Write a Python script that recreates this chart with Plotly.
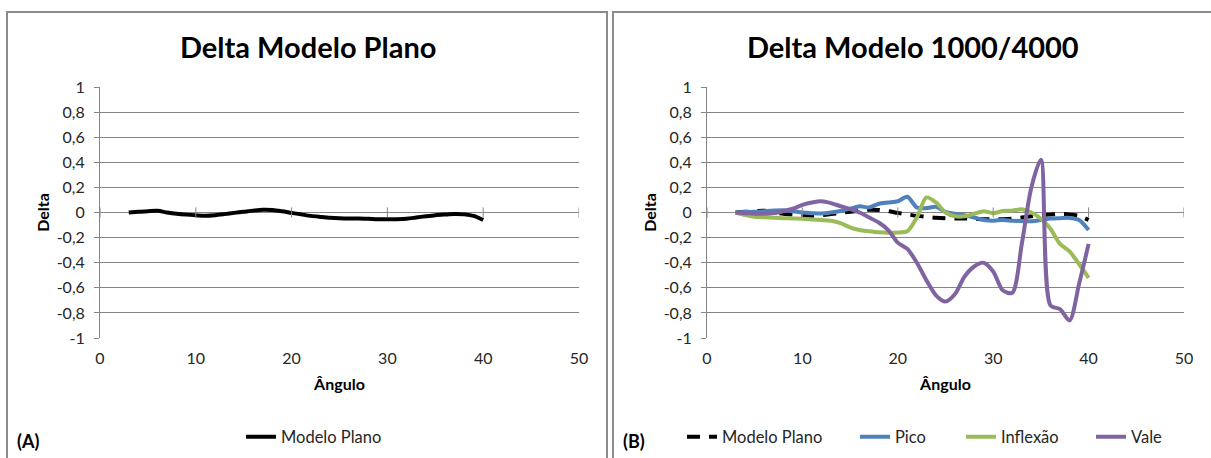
import plotly.graph_objects as go

# ---------------- data ----------------
ANGLES = list(range(3, 41))

PLANO = [0.0, 0.005, 0.01, 0.013, 0.0, -0.01, -0.017, -0.022, -0.026, -0.022,
         -0.013, -0.003, 0.006, 0.015, 0.022, 0.02, 0.01, -0.003, -0.015, -0.027,
         -0.035, -0.042, -0.046, -0.048, -0.048, -0.05, -0.053, -0.053, -0.053, -0.05,
         -0.04, -0.03, -0.021, -0.016, -0.012, -0.015, -0.027, -0.06]

PICO = [0.0, 0.003, 0.005, 0.01, 0.015, 0.018, 0.01, 0.0, -0.005, -0.008,
        0.0, 0.012, 0.03, 0.05, 0.04, 0.07, 0.08, 0.09, 0.125, 0.04,
        0.035, 0.045, 0.005, -0.01, -0.022, -0.04, -0.06, -0.065, -0.06, -0.065,
        -0.068, -0.07, -0.06, -0.048, -0.045, -0.043, -0.06, -0.14]

INFLEXAO = [0.0, -0.02, -0.033, -0.038, -0.042, -0.045, -0.048, -0.05, -0.055, -0.06,
            -0.066, -0.085, -0.118, -0.14, -0.15, -0.158, -0.162, -0.16, -0.15, -0.04,
            0.12, 0.08, 0.0, -0.03, -0.03, -0.01, 0.01, -0.005, 0.012, 0.015,
            0.025, 0.0, -0.05, -0.13, -0.25, -0.31, -0.41, -0.52]

VALE = [0.0, -0.005, -0.01, -0.01, -0.005, 0.01, 0.03, 0.06, 0.08, 0.09,
        0.075, 0.05, 0.028, 0.0, -0.04, -0.08, -0.14, -0.24, -0.29, -0.4,
        -0.54, -0.66, -0.71, -0.65, -0.51, -0.43, -0.40, -0.47, -0.62, -0.64,
        -0.25, 0.2, 0.42, -0.74, -0.77, -0.86, -0.57, -0.25]

Y_TICKS = [1, 0.8, 0.6, 0.4, 0.2, 0, -0.2, -0.4, -0.6, -0.8, -1]
Y_TICK_LABELS = ["1", "0,8", "0,6", "0,4", "0,2", "0", "-0,2", "-0,4", "-0,6", "-0,8", "-1"]
X_TICKS = [0, 10, 20, 30, 40, 50]
X_TICK_LABELS = ["0", "10", "20", "30", "40", "50"]

TITLE_A = "Delta Modelo Plano"
TITLE_B = "Delta Modelo 1000/4000"

# ---------------- style ----------------
W, H = 1211, 458
FONT = "Lato, Carlito, Calibri, 'Open Sans', sans-serif"
GRID = "#868686"
TXT = "#262626"
BLUE = "#4F81BD"
GREEN = "#9BBB59"
PURPLE = "#8064A2"

def px_x(p):
    return p / W

def px_y(p):
    return 1 - p / H

YDOM = [px_y(338), px_y(87)]
XDOM_A = [px_x(100), px_x(579)]
XDOM_B = [px_x(707), px_x(1184)]

fig = go.Figure()

smooth = 0.8
fig.add_trace(go.Scatter(x=ANGLES, y=PLANO, mode="lines", name="Modelo Plano", showlegend=True,
                         line=dict(color="black", width=4, shape="spline", smoothing=smooth),
                         xaxis="x", yaxis="y", legend="legend"))

series_b = [
    ("Modelo Plano", PLANO, "black", "13px,9px", "legend2"),
    ("Pico", PICO, BLUE, "solid", "legend3"),
    ("Inflexão", INFLEXAO, GREEN, "solid", "legend4"),
    ("Vale", VALE, PURPLE, "solid", "legend5"),
]
for name, vals, col, dash, lg in series_b:
    fig.add_trace(go.Scatter(x=ANGLES, y=vals, mode="lines", name=name, showlegend=True,
                             line=dict(color=col, width=4, dash=dash, shape="spline", smoothing=smooth),
                             xaxis="x2", yaxis="y2", legend=lg))

xcommon = dict(range=[0, 50], tickvals=X_TICKS, ticktext=X_TICK_LABELS, ticks="",
               showline=False, showgrid=False, zeroline=False, ticklabelstandoff=9,
               tickfont=dict(family=FONT, size=16, color=TXT),
               title=dict(text="<b>Ângulo</b>", font=dict(family=FONT, size=16, color="black"), standoff=12))
ycommon = dict(range=[-1, 1], tickvals=Y_TICKS, ticktext=Y_TICK_LABELS,
               ticks="outside", ticklen=5, tickcolor=GRID, showline=True, linecolor=GRID, linewidth=1,
               showgrid=True, gridcolor=GRID, gridwidth=1, ticklabelstandoff=6,
               zeroline=True, zerolinecolor=GRID, zerolinewidth=1,
               tickfont=dict(family=FONT, size=16, color=TXT),
               title=dict(text="<b>Delta</b>", font=dict(family=FONT, size=16, color="black"), standoff=3),
               domain=YDOM)

fig.update_layout(
    width=W, height=H, margin=dict(l=0, r=0, t=0, b=0, autoexpand=False),
    showlegend=True,
    paper_bgcolor="white", plot_bgcolor="white",
    font=dict(family=FONT, color=TXT),
    xaxis=dict(domain=XDOM_A, anchor="y", **xcommon),
    yaxis=dict(anchor="x", **ycommon),
    xaxis2=dict(domain=XDOM_B, anchor="y2", **xcommon),
    yaxis2=dict(anchor="x2", **ycommon),
)

# legends: one per entry so each sits where the reference puts it
leg_y = px_y(437)
legend_text_x = {"legend": 281, "legend2": 722, "legend3": 895, "legend4": 1001, "legend5": 1131}
for lg, tx in legend_text_x.items():
    fig.update_layout({lg: dict(x=px_x(tx - 40), y=leg_y, xanchor="left", yanchor="middle",
                                orientation="h", bgcolor="rgba(0,0,0,0)",
                                font=dict(family=FONT, size=16.5, color=TXT))})

# crossing tick marks on the horizontal axis at zero
for xr, yr in (("x", "y"), ("x2", "y2")):
    for t in X_TICKS:
        fig.add_shape(type="line", xref=xr, yref=yr, x0=t, x1=t, y0=-0.04, y1=0.04,
                      line=dict(color=GRID, width=1))

# chart frames
frame = dict(color="#8c8c8c", width=2)
fig.add_shape(type="rect", xref="paper", yref="paper", x0=px_x(7), x1=px_x(607),
              y0=-0.2, y1=px_y(12), line=frame, layer="below")
fig.add_shape(type="rect", xref="paper", yref="paper", x0=px_x(613), x1=1.2,
              y0=-0.2, y1=px_y(12), line=frame, layer="below")

# titles and panel labels
for txt, cx in ((TITLE_A, 308), (TITLE_B, 913)):
    fig.add_annotation(text=f"<b>{txt}</b>", xref="paper", yref="paper", x=px_x(cx), y=px_y(47),
                       xanchor="center", yanchor="middle", showarrow=False,
                       font=dict(family=FONT, size=29, color="black"))
for txt, lx in (("(A)", 15), ("(B)", 621)):
    fig.add_annotation(text=f"<b>{txt}</b>", xref="paper", yref="paper", x=px_x(lx), y=px_y(441),
                       xanchor="left", yanchor="middle", showarrow=False,
                       font=dict(family=FONT, size=18, color="black"))

fig.write_html("out.html")
